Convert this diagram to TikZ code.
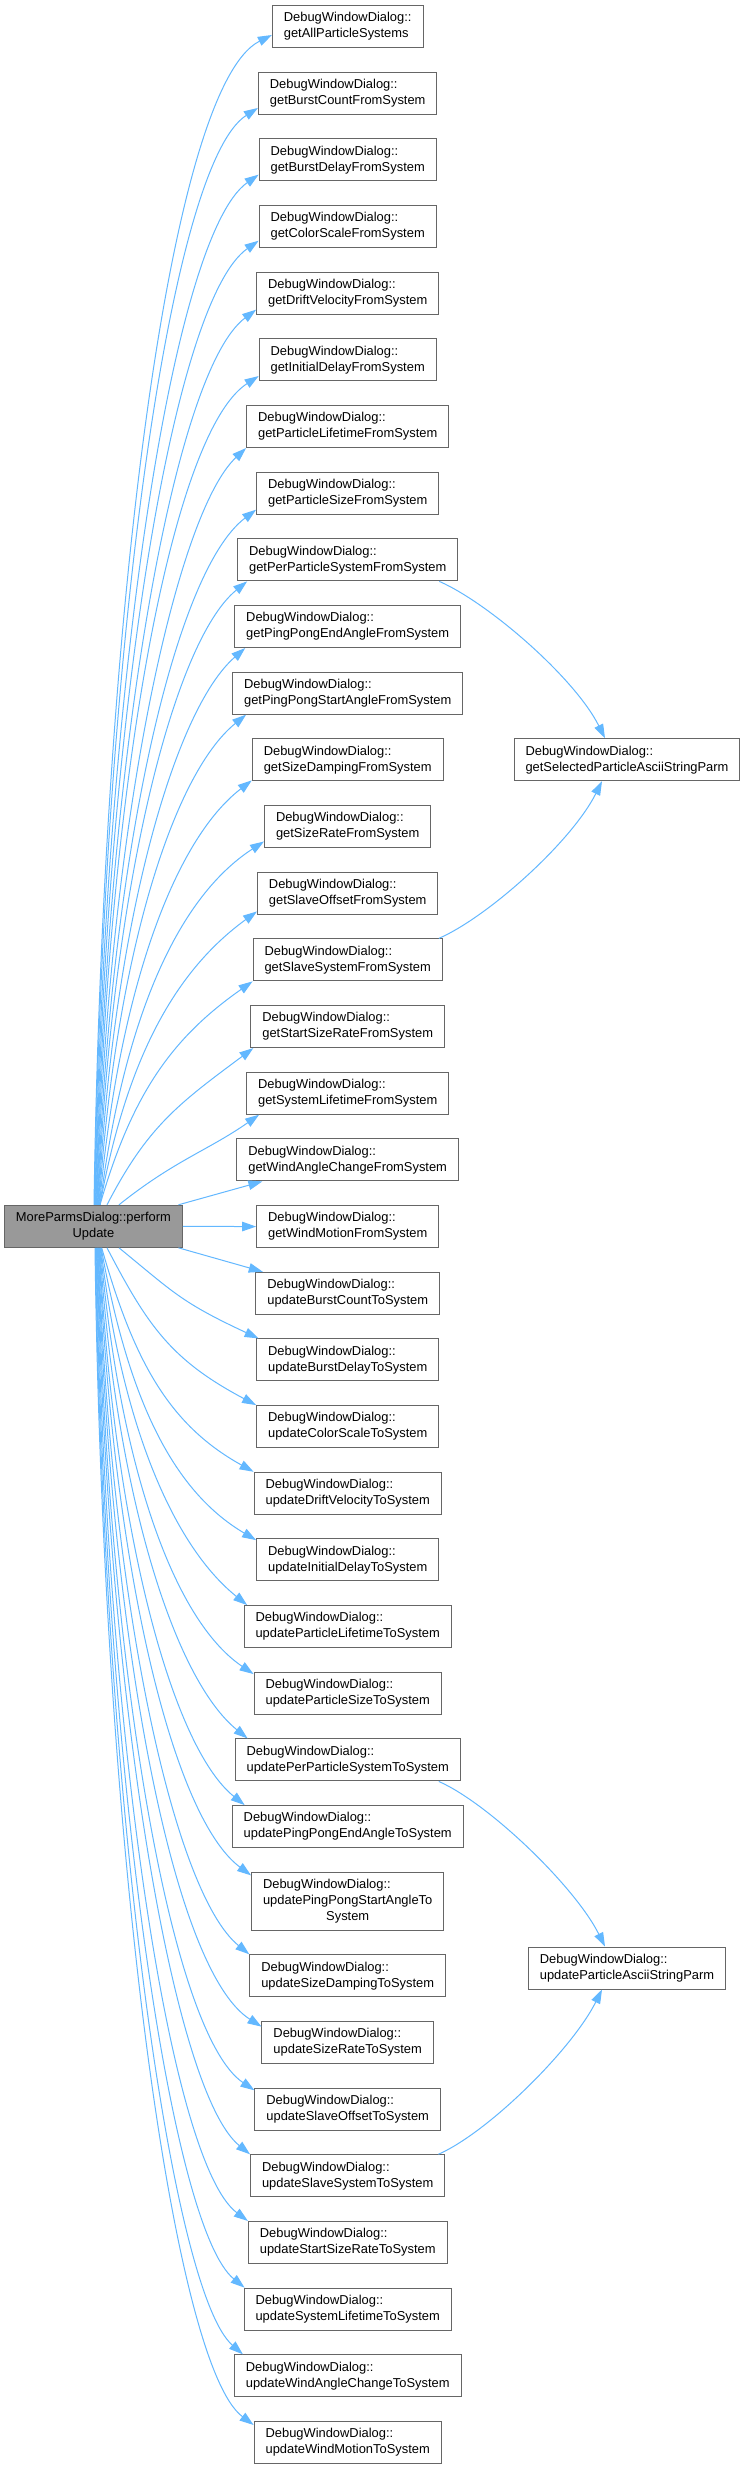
\documentclass[tikz,border=0pt]{standalone}
\usepackage{fontspec}
\setmainfont{Liberation Sans}
\usepackage{tikz}
\usetikzlibrary{arrows.meta,positioning}
\definecolor{DoxEdge}{HTML}{63B8FF}
\definecolor{DoxLine}{HTML}{666666}
\definecolor{DoxRoot}{HTML}{999999}

\begin{document}
\begin{tikzpicture}[
    x=1pt,y=-1pt,
    >={Triangle[length=14pt,width=9.5pt]},
    fn/.style={draw=DoxLine,fill=white,line width=1pt,align=left,
      inner xsep=11.5pt,inner ysep=6.9pt,minimum height=42pt,
      font=\fontsize{12.9}{16}\selectfont},
    root/.style={fn,fill=DoxRoot,align=center},
    call/.style={->,draw=DoxEdge,line width=1pt}
  ]
  \useasboundingbox[fill=white] (0,0) rectangle (744,2469);

  \node[fn] (gAll) at (347.7,26.5) {DebugWindowDialog::\\getAllParticleSystems};
  \foreach \nm/\lbl [remember=\nm as \prev (initially gAll)] in {
      gBurstCount/getBurstCountFromSystem,
      gBurstDelay/getBurstDelayFromSystem,
      gColorScale/getColorScaleFromSystem,
      gDrift/getDriftVelocityFromSystem,
      gInitDelay/getInitialDelayFromSystem,
      gPartLife/getParticleLifetimeFromSystem,
      gPartSize/getParticleSizeFromSystem,
      gPerPart/getPerParticleSystemFromSystem,
      gPPEnd/getPingPongEndAngleFromSystem,
      gPPStart/getPingPongStartAngleFromSystem,
      gSizeDamp/getSizeDampingFromSystem,
      gSizeRate/getSizeRateFromSystem,
      gSlaveOff/getSlaveOffsetFromSystem,
      gSlaveSys/getSlaveSystemFromSystem,
      gStartSize/getStartSizeRateFromSystem,
      gSysLife/getSystemLifetimeFromSystem,
      gWindAngle/getWindAngleChangeFromSystem,
      gWindMotion/getWindMotionFromSystem,
      uBurstCount/updateBurstCountToSystem,
      uBurstDelay/updateBurstDelayToSystem,
      uColorScale/updateColorScaleToSystem,
      uDrift/updateDriftVelocityToSystem,
      uInitDelay/updateInitialDelayToSystem,
      uPartLife/updateParticleLifetimeToSystem,
      uPartSize/updateParticleSizeToSystem,
      uPerPart/updatePerParticleSystemToSystem,
      uPPEnd/updatePingPongEndAngleToSystem,
      uPPStart/updatePingPongStartAngleTo\\\hspace*{\fill}System\hspace*{\fill},
      uSizeDamp/updateSizeDampingToSystem,
      uSizeRate/updateSizeRateToSystem,
      uSlaveOff/updateSlaveOffsetToSystem,
      uSlaveSys/updateSlaveSystemToSystem,
      uStartSize/updateStartSizeRateToSystem,
      uSysLife/updateSystemLifetimeToSystem,
      uWindAngle/updateWindAngleChangeToSystem,
      uWindMotion/updateWindMotionToSystem}
    \node[fn,below=23.67pt of \prev] (\nm) {DebugWindowDialog::\\\lbl};

  \node[fn] (gSelAscii) at (627,759.7) {DebugWindowDialog::\\getSelectedParticleAsciiStringParm};
  \node[fn] (uPartAscii) at (627,1968) {DebugWindowDialog::\\updateParticleAsciiStringParm};
  \node[root] (root) at (93.4,1226.3) {MoreParmsDialog::perform\\Update};

  \foreach \tg/\sx/\ex/\ey/\ax/\ay/\bx/\by in {
      gAll/0.6/0/13/8.7/-584.5/-103.4/51.8,
      gBurstCount/1.1/0/6.7/8.5/-547.9/-89.4/56.9,
      gBurstDelay/1.6/0/6.7/9/-514.9/-86.8/60.8,
      gColorScale/2.1/0/7.3/9.5/-481.7/-86.5/60.6,
      gDrift/2.6/0/5/10/-447/-82.7/61.7,
      gInitDelay/3.1/0/5.3/10.9/-414.2/-88.1/57.2,
      gPartLife/3.6/0/0/10.9/-377.9/-70.1/65.4,
      gPartSize/4.1/0/5/12.5/-347/-81.8/61.6,
      gPerPart/4.6/10/0/13/-311.2/-74.5/60.3,
      gPPEnd/5.1/11/0/14.2/-277.9/-71.7/62.3,
      gPPStart/5.6/14/0/16/-244.5/-74.1/60,
      gSizeDamp/6.1/0/1/18.8/-212/-78.3/60.1,
      gSizeRate/6.6/0/6.6/23.2/-181.2/-88.9/57.8,
      gSlaveOff/6.6/0/3.3/26.6/-146.2/-82/59.6,
      gSlaveSys/6.6/0/0/32.1/-111.2/-80.4/56.3,
      gStartSize/13.6/3/0/40.3/-77.9/-75.7/56.2,
      gSysLife/25.6/13/0/55.6/-44.5/-50.8/35.6}
    \draw[call] ([xshift=\sx]root.north) .. controls +(\ax,\ay) and +(\bx,\by) .. ([xshift=\ex,yshift=\ey]\tg.south west);

  \foreach \tg/\sx/\ex/\ey/\ax/\ay/\bx/\by in {
      uBurstDelay/25.6/2.5/0/55.3/45.2/-77.4/-36.1,
      uColorScale/13.6/0/0/40.9/78.5/-84.9/-45.1,
      uDrift/8.3/0/0/31.7/111.8/-85.4/-47.3,
      uInitDelay/7.8/0/1.7/26.2/146/-86.1/-50.9,
      uPartLife/7.4/3.6/0/20.8/178.5/-73.3/-59,
      uPartSize/6.9/0/2.3/18.7/213/-81.7/-55.1,
      uPerPart/6.4/13/0/15.9/245.2/-73.7/-59.6,
      uPPEnd/5.9/13/0/14.1/278.5/-73.8/-59.1,
      uPPStart/5.5/0/3.6/13.3/313.7/-79.6/-59.1,
      uSizeDamp/5/0/0/11.7/353.4/-75.8/-61.4,
      uSizeRate/4.5/0/5.7/11.7/389.4/-89.4/-56.9,
      uSlaveOff/4.1/0/2.7/10.3/421.4/-83.8/-56.5,
      uSlaveSys/3.6/0/0/9.4/453.4/-76.5/-62,
      uStartSize/3.1/0/0/8.7/486.5/-78.1/-58.4,
      uSysLife/2.6/1/0/8/520/-74.3/-60.1,
      uWindAngle/2.1/9/0/7.6/553.4/-72.3/-62.8,
      uWindMotion/1.6/0/4/7.6/588.5/-82.2/-61.3}
    \draw[call] ([xshift=\sx]root.south) .. controls +(\ax,\ay) and +(\bx,\by) .. ([xshift=\ex,yshift=-\ey]\tg.north west);

  \draw[call] ([xshift=-4.4pt]root.north east) -- ([xshift=26pt]gWindAngle.south west);
  \draw[call] (root.east) -- (gWindMotion.west);
  \draw[call] ([xshift=-4.4pt]root.south east) -- ([xshift=7.4pt]uBurstCount.north west);

  \draw[call] ([xshift=-19pt]gPerPart.south east) .. controls +(50,22) and +(-30,-60) .. ([xshift=-22pt]gSelAscii.north);
  \draw[call] ([xshift=-4pt]gSlaveSys.north east) .. controls +(50,-22) and +(-30,60) .. ([xshift=-25pt]gSelAscii.south);
  \draw[call] ([xshift=-22pt]uPerPart.south east) .. controls +(50,22) and +(-30,-60) .. ([xshift=-22pt]uPartAscii.north);
  \draw[call] ([xshift=-7pt]uSlaveSys.north east) .. controls +(50,-22) and +(-30,60) .. ([xshift=-25pt]uPartAscii.south);
\end{tikzpicture}
\end{document}
